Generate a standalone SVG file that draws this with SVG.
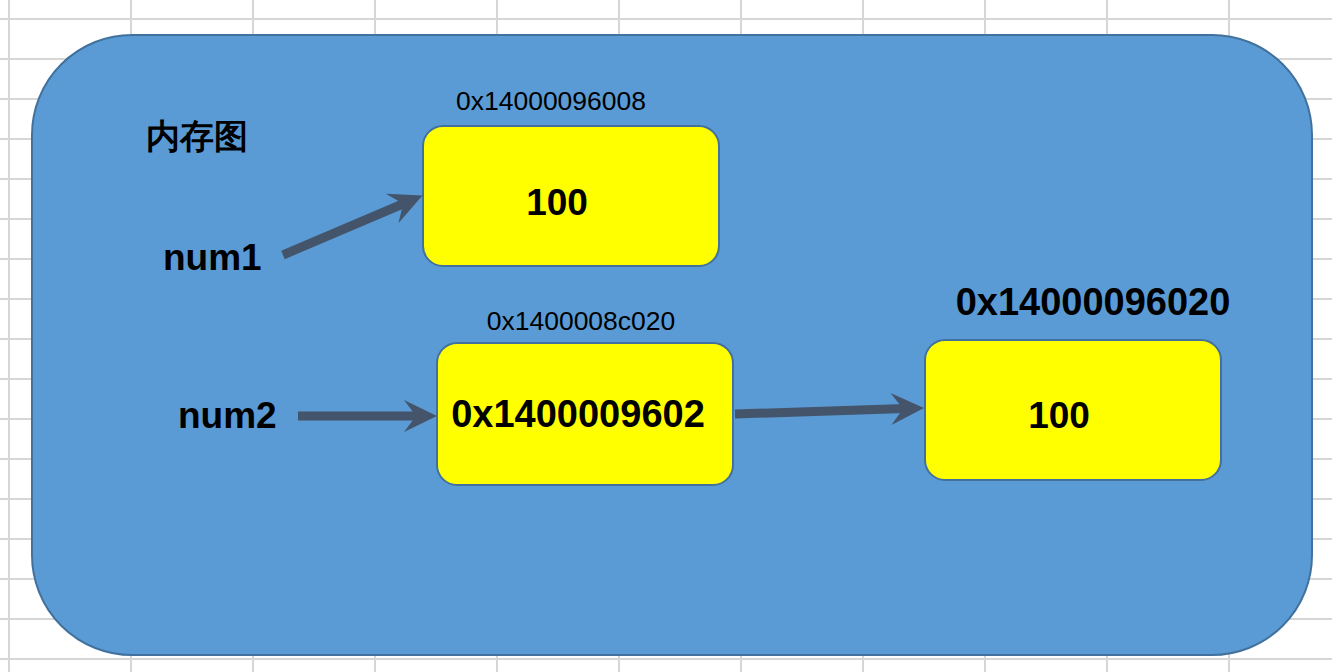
<svg xmlns="http://www.w3.org/2000/svg" width="1332" height="672" viewBox="0 0 1332 672">
<style>
.grid line{stroke:#D6D6D6;stroke-width:2}
.box{fill:#FFFF00;stroke:#41719C;stroke-width:2}
.b{font-family:"Liberation Sans",Arial,sans-serif;font-weight:bold;fill:#000}
.s{font-family:"Liberation Sans",Arial,sans-serif;font-size:26.5px;fill:#000}
.conn line{stroke:#44546A;stroke-width:9}
</style>
<defs>
<marker id="ah" markerUnits="userSpaceOnUse" markerWidth="34" markerHeight="32" refX="14" refY="16" orient="auto" overflow="visible">
<path d="M0,0 L33,16 L0,32 L12,16 Z" fill="#44546A"/>
</marker>
</defs>
<rect width="1332" height="672" fill="#FFFFFF"/>
<g class="grid">
<line x1="9" y1="0" x2="9" y2="672"/>
<line x1="131" y1="0" x2="131" y2="672"/>
<line x1="253" y1="0" x2="253" y2="672"/>
<line x1="375" y1="0" x2="375" y2="672"/>
<line x1="497" y1="0" x2="497" y2="672"/>
<line x1="619" y1="0" x2="619" y2="672"/>
<line x1="741" y1="0" x2="741" y2="672"/>
<line x1="863" y1="0" x2="863" y2="672"/>
<line x1="985" y1="0" x2="985" y2="672"/>
<line x1="1107" y1="0" x2="1107" y2="672"/>
<line x1="1229" y1="0" x2="1229" y2="672"/>
<line x1="0" y1="19" x2="1332" y2="19"/>
<line x1="0" y1="59" x2="1332" y2="59"/>
<line x1="0" y1="99" x2="1332" y2="99"/>
<line x1="0" y1="139" x2="1332" y2="139"/>
<line x1="0" y1="179" x2="1332" y2="179"/>
<line x1="0" y1="219" x2="1332" y2="219"/>
<line x1="0" y1="259" x2="1332" y2="259"/>
<line x1="0" y1="299" x2="1332" y2="299"/>
<line x1="0" y1="339" x2="1332" y2="339"/>
<line x1="0" y1="379" x2="1332" y2="379"/>
<line x1="0" y1="419" x2="1332" y2="419"/>
<line x1="0" y1="459" x2="1332" y2="459"/>
<line x1="0" y1="499" x2="1332" y2="499"/>
<line x1="0" y1="539" x2="1332" y2="539"/>
<line x1="0" y1="579" x2="1332" y2="579"/>
<line x1="0" y1="619" x2="1332" y2="619"/>
<line x1="0" y1="659" x2="1332" y2="659"/>
</g>
<g id="memory">
<rect x="32" y="35" width="1280" height="620" rx="100" ry="100" fill="#5B9BD5" stroke="#41719C" stroke-width="2"/>
<text class="b" x="146" y="148" font-size="34" font-family="'Liberation Sans','Noto Sans CJK SC',sans-serif">内存图</text>
</g>
<g id="num1"><text class="b" x="163" y="270" font-size="37">num1</text></g>
<g id="num2"><text class="b" x="178" y="428" font-size="37">num2</text></g>
<g id="box1">
<rect class="box" x="423" y="126" width="296" height="140" rx="20"/>
<text class="s" x="551" y="110" text-anchor="middle">0x14000096008</text>
<text class="b" x="557" y="215" text-anchor="middle" font-size="37">100</text>
</g>
<g id="box2">
<rect class="box" x="437" y="343" width="296" height="142" rx="20"/>
<text class="s" x="581" y="330" text-anchor="middle">0x1400008c020</text>
<text class="b" x="578" y="427" text-anchor="middle" font-size="38">0x1400009602</text>
</g>
<g id="box3">
<rect class="box" x="925" y="340" width="296" height="140" rx="20"/>
<text class="b" x="1093" y="315" text-anchor="middle" font-size="38">0x14000096020</text>
<text class="b" x="1059" y="428" text-anchor="middle" font-size="37">100</text>
</g>
<g class="conn" id="connectors">
<line x1="283" y1="255" x2="405" y2="203" marker-end="url(#ah)"/>
<line x1="298" y1="416" x2="418" y2="416" marker-end="url(#ah)"/>
<line x1="735" y1="414" x2="905" y2="408.6" marker-end="url(#ah)"/>
</g>
</svg>
